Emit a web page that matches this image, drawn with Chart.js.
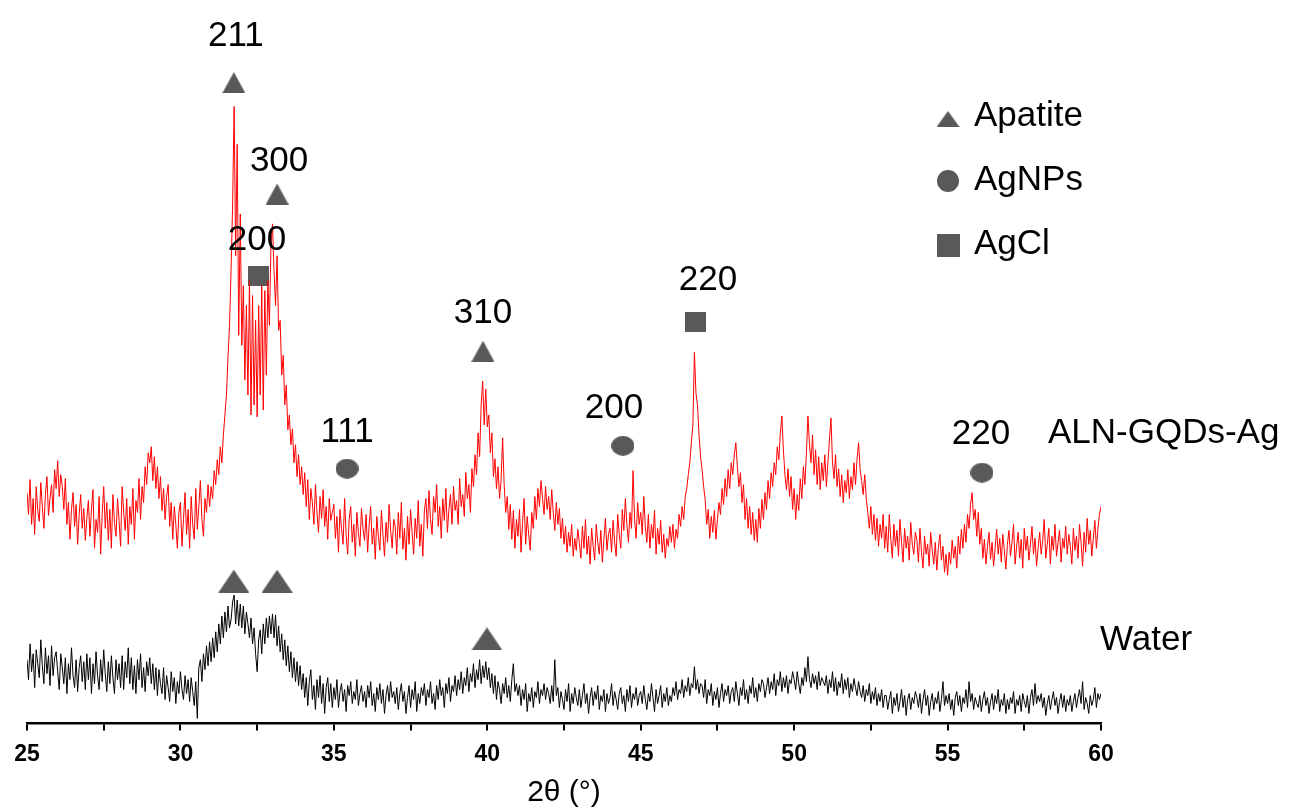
<!DOCTYPE html>
<html>
<head>
<meta charset="utf-8">
<script src="https://cdn.jsdelivr.net/npm/chart.js@4.4.1/dist/chart.umd.min.js"></script>
<style>
  html, body { margin: 0; padding: 0; background: #fff; }
  #wrap { width: 1293px; height: 808px; position: relative; }
</style>
</head>
<body>
<div id="wrap"><canvas id="xrd-chart"></canvas></div>
<script>
// --- Data ---
// 2θ grid: 25.00 .. 60.00 in 0.05° steps, one line per degree (20 values)
const angleStart = 25;
const angleStep = 0.05;

// ALN-GQDs-Ag (red)
const alnValues = [
  232, 210, 245, 200, 226, 190, 238, 214, 203, 242, 218, 196, 230, 248, 209, 226, 240, 212, 255, 236,
  264, 228, 250, 238, 215, 246, 200, 222, 185, 215, 232, 198, 220, 180, 210, 230, 196, 216, 184, 206,
  224, 188, 215, 235, 176, 205, 192, 228, 170, 210, 238, 196, 222, 184, 215, 176, 230, 202, 188, 226,
  204, 178, 238, 212, 194, 226, 180, 218, 200, 236, 185, 224, 212, 246, 205, 238, 222, 258, 240, 272,
  262, 278, 244, 268, 236, 258, 226, 248, 214, 236, 205, 228, 240, 198, 222, 185, 218, 200, 176, 212,
  222, 178, 205, 232, 190, 215, 176, 228, 200, 185, 236, 195, 218, 244, 205, 188, 226, 212, 240, 218,
  238, 226, 254, 240, 265, 250, 278, 262, 290, 310, 330, 368, 400, 455, 520, 620, 470, 582, 390, 512,
  380, 440, 345, 420, 330, 445, 310, 430, 320, 405, 308, 420, 330, 440, 315, 435, 350, 445, 400, 480,
  502, 455, 420, 470, 395, 405, 350, 370, 320, 340, 295, 310, 280, 296, 262, 280, 248, 270, 240, 258,
  230, 252, 218, 245, 205, 236, 222, 200, 240, 212, 192, 228, 206, 235, 198, 218, 185, 226, 204, 212,
  220, 186, 208, 172, 215, 196, 180, 226, 190, 170, 205, 218, 182, 200, 168, 212, 192, 178, 216, 196,
  184, 210, 172, 200, 218, 180, 196, 165, 208, 188, 174, 214, 190, 168, 202, 182, 220, 194, 176, 205,
  198, 170, 212, 186, 222, 175, 196, 164, 208, 180, 215, 192, 170, 206, 186, 224, 178, 200, 168, 214,
  226, 196, 234, 205, 190, 228, 212, 240, 198, 218, 186, 226, 204, 236, 192, 215, 230, 200, 238, 214,
  224, 200, 246, 218, 230, 208, 252, 226, 240, 212, 256, 238, 270, 250, 292, 268, 320, 344, 300, 336,
  298, 310, 272, 292, 248, 266, 236, 258, 226, 245, 287, 240, 212, 228, 195, 220, 185, 214, 176, 205,
  188, 215, 172, 202, 226, 180, 208, 190, 174, 212, 196, 228, 205, 236, 218, 244, 226, 210, 238, 215,
  228, 205, 235, 212, 194, 222, 200, 216, 186, 206, 180, 198, 172, 192, 178, 200, 168, 186, 174, 195,
  182, 166, 198, 176, 205, 170, 188, 160, 196, 178, 164, 200, 182, 170, 194, 162, 185, 206, 174, 190,
  196, 172, 204, 182, 168, 210, 190, 176, 215, 194, 226, 200, 182, 212, 196, 254, 205, 186, 222, 200,
  212, 190, 228, 198, 182, 210, 176, 200, 186, 214, 170, 196, 180, 204, 172, 190, 166, 186, 178, 198,
  182, 200, 176, 195, 186, 210, 198, 218, 205, 228, 236, 250, 262, 282, 300, 373, 332, 320, 290, 268,
  255, 238, 225, 200, 215, 186, 208, 192, 214, 185, 205, 222, 210, 236, 220, 246, 228, 255, 236, 262,
  250, 270, 282, 258, 238, 252, 222, 240, 205, 226, 196, 218, 190, 212, 184, 205, 182, 216, 196, 225,
  205, 232, 215, 244, 226, 252, 238, 262, 250, 278, 265, 292, 309, 275, 250, 235, 256, 228, 248, 215,
  236, 205, 230, 214, 246, 226, 258, 240, 272, 309, 280, 262, 290, 250, 275, 240, 268, 235, 262, 244,
  270, 238, 262, 285, 307, 262, 246, 270, 238, 256, 228, 250, 222, 244, 232, 255, 226, 248, 235, 262,
  240, 266, 282, 255, 244, 230, 250, 226, 212, 196, 218, 190, 210, 184, 206, 178, 200, 186, 210, 176,
  198, 172, 210, 185, 166, 200, 178, 194, 168, 205, 182, 162, 196, 176, 188, 164, 202, 180, 170, 192,
  184, 162, 196, 172, 156, 188, 170, 180, 158, 192, 174, 160, 182, 154, 176, 190, 164, 178, 152, 170,
  149, 172, 160, 184, 166, 178, 156, 188, 170, 195, 176, 200, 182, 210, 196, 220, 232, 205, 215, 188,
  212, 180, 196, 166, 185, 160, 178, 192, 165, 182, 158, 176, 195, 170, 186, 162, 190, 174, 155, 180,
  194, 168, 182, 200, 160, 178, 192, 166, 185, 156, 196, 174, 188, 164, 180, 198, 170, 186, 158, 176,
  192, 170, 184, 205, 166, 180, 196, 160, 188, 174, 200, 168, 182, 194, 162, 186, 176, 198, 170, 190,
  178, 160, 196, 174, 188, 166, 200, 182, 158, 192, 172, 206, 180, 194, 168, 186, 204, 176, 196, 210,
  218
];

// Water (black)
const waterValues = [
  64, 44, 80, 52, 70, 36, 74, 60, 46, 84, 58, 40, 76, 50, 68, 38, 78, 48, 66, 72,
  52, 34, 70, 56, 40, 66, 30, 60, 44, 76, 48, 36, 64, 32, 56, 68, 42, 62, 34, 70,
  44, 66, 30, 60, 40, 72, 48, 34, 64, 42, 74, 50, 32, 62, 40, 68, 46, 30, 64, 44,
  60, 36, 68, 34, 62, 46, 76, 40, 66, 34, 58, 30, 64, 44, 70, 36, 56, 32, 62, 48,
  66, 40, 60, 34, 56, 28, 54, 40, 30, 56, 24, 48, 36, 22, 52, 32, 46, 20, 42, 30,
  52, 34, 24, 48, 30, 44, 22, 46, 32, 18, 42, 5, 56, 64, 42, 70, 54, 78, 58, 82,
  62, 86, 66, 92, 72, 100, 80, 108, 86, 112, 92, 118, 96, 104, 122, 129, 100, 124, 98, 120,
  96, 118, 90, 112, 100, 86, 106, 80, 96, 70, 52, 84, 94, 70, 100, 80, 106, 86, 108, 90,
  110, 86, 109, 78, 98, 72, 90, 64, 84, 58, 78, 52, 72, 46, 66, 42, 62, 38, 58, 34,
  50, 26, 46, 18, 42, 54, 24, 38, 14, 44, 26, 48, 20, 40, 10, 36, 46, 22, 40, 16,
  36, 24, 44, 16, 32, 40, 22, 34, 12, 38, 28, 42, 20, 32, 24, 44, 18, 30, 38, 22,
  32, 16, 38, 26, 42, 18, 30, 12, 36, 24, 40, 20, 34, 10, 28, 38, 22, 42, 26, 32,
  20, 36, 14, 30, 40, 22, 32, 10, 26, 38, 16, 34, 24, 42, 12, 30, 20, 36, 28, 40,
  18, 34, 26, 42, 20, 30, 14, 38, 24, 44, 28, 36, 16, 40, 30, 46, 22, 38, 32, 48,
  28, 44, 34, 52, 30, 46, 38, 56, 32, 50, 42, 60, 36, 54, 44, 64, 40, 58, 46, 62,
  44, 56, 36, 50, 30, 48, 24, 42, 34, 20, 40, 30, 46, 26, 38, 22, 44, 60, 32, 40,
  28, 38, 18, 34, 24, 40, 12, 30, 22, 36, 16, 32, 26, 42, 20, 34, 28, 40, 24, 36,
  30, 20, 38, 22, 64, 28, 36, 16, 32, 24, 14, 34, 22, 40, 12, 30, 20, 36, 26, 18,
  34, 16, 28, 40, 20, 30, 10, 26, 36, 18, 32, 24, 38, 14, 28, 22, 34, 12, 30, 20,
  26, 40, 18, 32, 24, 14, 30, 36, 20, 28, 12, 34, 22, 38, 16, 30, 24, 36, 18, 28,
  32, 20, 38, 24, 14, 30, 22, 40, 26, 12, 34, 20, 28, 38, 16, 30, 22, 36, 18, 28,
  22, 36, 28, 42, 24, 34, 30, 44, 26, 38, 32, 46, 28, 40, 36, 57, 34, 44, 30, 40,
  38, 26, 44, 20, 34, 28, 40, 18, 32, 24, 36, 16, 30, 40, 22, 34, 28, 38, 20, 32,
  36, 22, 42, 30, 18, 36, 28, 44, 24, 34, 20, 38, 30, 46, 26, 36, 22, 40, 32, 44,
  40, 26, 36, 46, 30, 42, 34, 50, 28, 44, 38, 52, 32, 46, 36, 48, 30, 44, 40, 52,
  44, 34, 52, 40, 30, 46, 38, 56, 42, 67, 44, 36, 50, 40, 48, 34, 52, 38, 46, 42,
  38, 48, 30, 44, 36, 52, 32, 46, 28, 42, 36, 50, 30, 44, 34, 46, 26, 40, 32, 45,
  36, 28, 42, 32, 26, 38, 22, 34, 28, 40, 20, 32, 24, 36, 18, 30, 22, 34, 16, 28,
  28, 14, 24, 32, 10, 26, 18, 30, 12, 22, 34, 16, 28, 8, 24, 30, 14, 26, 20, 32,
  26, 16, 30, 10, 24, 34, 18, 28, 8, 22, 30, 14, 26, 20, 32, 12, 24, 42, 18, 28,
  20, 30, 14, 24, 8, 26, 32, 18, 28, 12, 26, 20, 34, 16, 42, 22, 30, 14, 26, 20,
  16, 28, 12, 24, 32, 18, 26, 10, 22, 30, 14, 28, 20, 34, 12, 24, 18, 30, 10, 24,
  14, 26, 20, 32, 10, 24, 18, 28, 12, 30, 22, 16, 28, 10, 26, 34, 18, 40, 20, 28,
  22, 30, 16, 26, 8, 20, 28, 14, 24, 32, 18, 26, 10, 22, 30, 16, 28, 12, 24, 18,
  28, 12, 22, 30, 16, 26, 34, 20, 42, 14, 26, 20, 10, 28, 18, 24, 36, 16, 30, 24,
  30
];

// Phase markers above the ALN-GQDs-Ag pattern
const alnMarkerX = [31.74, 33.15, 32.53, 39.86, 35.43, 44.42, 46.77, 56.12];
const alnMarkerY = [644, 532, 450, 374, 256, 279, 403, 252];
const alnMarkerPhase = ['Apatite', 'Apatite', 'AgCl', 'Apatite', 'AgNPs', 'AgNPs', 'AgCl', 'AgNPs'];
const alnMarkerLabel = ['211', '300', '200', '310', '111', '200', '220', '220'];

// Phase markers above the Water pattern
const waterMarkerX = [31.74, 33.15, 39.99];
const waterMarkerY = [143, 143, 85];
const waterMarkerPhase = ['Apatite', 'Apatite', 'Apatite'];

const seriesNames = ['ALN-GQDs-Ag', 'Water'];
const phaseNames = ['Apatite', 'AgNPs', 'AgCl'];

const xTicksMin = 25;
const xTicksMax = 60;

// --- Styling helpers ---
const FONT = '"Liberation Sans", Arial, Helvetica, sans-serif';
const MARK_COLOR = '#595959';

function makeShape(kind, w, h) {
    const c = document.createElement('canvas');
    c.width = w; c.height = h;
    const g = c.getContext('2d');
    g.fillStyle = MARK_COLOR;
    g.beginPath();
    if (kind === 'Apatite') {
        g.moveTo(w / 2, 0); g.lineTo(w, h); g.lineTo(0, h); g.closePath();
    } else if (kind === 'AgNPs') {
        g.ellipse(w / 2, h / 2, w / 2, h / 2, 0, 0, Math.PI * 2);
    } else {
        g.rect(0, 0, w, h);
    }
    g.fill();
    return c;
}

const smallShapes = {
    Apatite: makeShape('Apatite', 23, 21),
    AgNPs: makeShape('AgNPs', 23, 20),
    AgCl: makeShape('AgCl', 21, 20)
};
const bigTriangle = makeShape('Apatite', 31, 23);
const legendShapes = {
    Apatite: makeShape('Apatite', 23, 16),
    AgNPs: makeShape('AgNPs', 22, 22),
    AgCl: makeShape('AgCl', 23, 23)
};

function toPoints(values) {
    return values.map((v, i) => ({ x: +(angleStart + i * angleStep).toFixed(2), y: v }));
}

// --- Annotation plugin: peak indices, series names, phase legend ---
// label offsets from their marker, in pixels (lift up, shift right)
const labelLift = [46, 33, 35, 38, 36, 37, 42, 38];
const labelShift = [2, 2, -1, 0, 0, -9, 13, -1];

const xrdAnnotations = {
    id: 'xrdAnnotations',
    afterDatasetsDraw(chart) {
        const { ctx, scales: { x, y } } = chart;
        ctx.save();
        ctx.fillStyle = '#000';
        ctx.font = '35px ' + FONT;
        ctx.textAlign = 'center';
        ctx.textBaseline = 'middle';
        alnMarkerLabel.forEach((t, i) => {
            ctx.fillText(t,
                x.getPixelForValue(alnMarkerX[i]) + labelShift[i],
                y.getPixelForValue(alnMarkerY[i]) - labelLift[i]);
        });

        // series names at the right
        ctx.textAlign = 'left';
        ctx.fillText(seriesNames[0], 1048, 433);
        ctx.fillText(seriesNames[1], 1100, 640);

        // legend
        const legendY = [119, 181, 245];
        phaseNames.forEach((name, i) => {
            const img = legendShapes[name];
            ctx.drawImage(img, 948 - img.width / 2, legendY[i] - img.height / 2);
            ctx.fillText(name, 974, legendY[i] - 2 + (i === 0 ? -1 : 1));
        });
        ctx.restore();
    }
};

function initializeChart() {
    const ctx = document.getElementById('xrd-chart').getContext('2d');
    return new Chart(ctx, {
        type: 'line',
        data: {
            datasets: [
                {
                    label: seriesNames[0],
                    data: toPoints(alnValues),
                    borderColor: '#ff0000',
                    borderWidth: 1,
                    pointRadius: 0,
                    tension: 0
                },
                {
                    label: seriesNames[1],
                    data: toPoints(waterValues),
                    borderColor: '#000000',
                    borderWidth: 1,
                    pointRadius: 0,
                    tension: 0
                },
                {
                    type: 'scatter',
                    label: 'aln-markers',
                    data: alnMarkerX.map((v, i) => ({ x: v, y: alnMarkerY[i] })),
                    pointStyle: alnMarkerPhase.map(p => smallShapes[p]),
                    showLine: false
                },
                {
                    type: 'scatter',
                    label: 'water-markers',
                    data: waterMarkerX.map((v, i) => ({ x: v, y: waterMarkerY[i] })),
                    pointStyle: waterMarkerPhase.map(() => bigTriangle),
                    showLine: false
                }
            ]
        },
        options: {
            responsive: true,
            maintainAspectRatio: false,
            animation: false,
            layout: { padding: { left: 27, right: 192, top: 0, bottom: 0 } },
            plugins: {
                legend: { display: false },
                tooltip: { enabled: false }
            },
            scales: {
                x: {
                    type: 'linear',
                    min: xTicksMin,
                    max: xTicksMax,
                    border: { display: true, color: '#000', width: 2.5 },
                    grid: {
                        display: true,
                        drawOnChartArea: false,
                        drawTicks: true,
                        tickLength: 7,
                        color: '#000',
                        lineWidth: 2
                    },
                    ticks: {
                        stepSize: 2.5,
                        autoSkip: false,
                        maxRotation: 0,
                        padding: 10,
                        color: '#000',
                        font: { family: FONT, size: 23, weight: 'bold' },
                        callback: (v) => (v % 5 === 0 ? v : '')
                    },
                    title: {
                        display: true,
                        text: '2θ (°)',
                        color: '#000',
                        font: { family: FONT, size: 30, lineHeight: 1.0 },
                        padding: { top: 0, bottom: 0 }
                    }
                },
                y: {
                    display: false,
                    min: 0,
                    max: 722
                }
            }
        },
        plugins: [xrdAnnotations]
    });
}

initializeChart();
</script>
</body>
</html>
